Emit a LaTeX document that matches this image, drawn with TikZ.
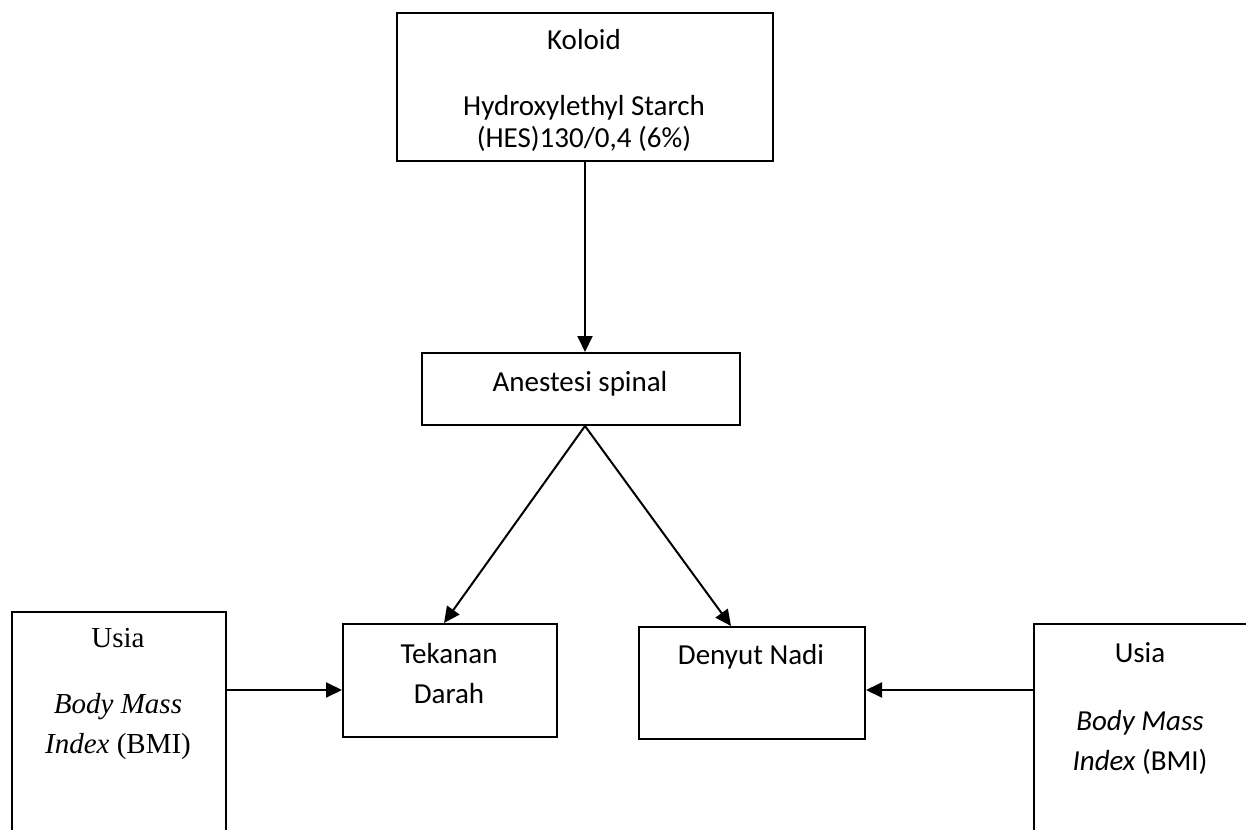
\documentclass[tikz,border=0pt]{standalone}
\usepackage{fontspec}
\setmainfont{Carlito}
\newfontfamily\tnr{Liberation Serif}
\usetikzlibrary{arrows.meta}
\begin{document}
\begin{tikzpicture}[x=0.5pt,y=-0.5pt,
  box/.style={draw,line width=1pt,inner sep=0pt,anchor=north west},
  txt/.style={anchor=base,inner sep=0pt,font=\fontsize{14.5pt}{17pt}\selectfont},
  arr/.style={line width=1pt,-{Triangle[length=8pt,width=7.5pt]}}]
\useasboundingbox (0,0) rectangle (1246,829);
\clip (0,0) rectangle (1246,829);
% boxes
\node[box,minimum width=188pt,minimum height=74pt] (koloid) at (396,12) {};
\node[box,minimum width=159pt,minimum height=36pt] (anestesi) at (421,352) {};
\node[box,minimum width=107pt,minimum height=56.5pt] (tekanan) at (342,623) {};
\node[box,minimum width=113pt,minimum height=56pt] (denyut) at (638,626) {};
\node[box,minimum width=107pt,minimum height=150pt] (leftbox) at (11,611) {};
\node[box,minimum width=115pt,minimum height=150pt] (rightbox) at (1033,623) {};
% texts
\node[txt] (t1) at (584,50) {Koloid};
\node[txt] (t2) at (584,115) {Hydroxylethyl Starch};
\node[txt] (t3) at (584,148) {(HES)130/0,4 (6\%)};
\node[txt] (t4) at (580,391) {Anestesi spinal};
\node[txt] (t5) at (449,663) {Tekanan};
\node[txt] (t6) at (449,703) {Darah};
\node[txt] (t7) at (751,664) {Denyut Nadi};
\node[txt] (t8) at (118,647) {\tnr Usia};
\node[txt] (t9) at (118,713) {\tnr\itshape Body Mass};
\node[txt] (t10) at (118,753) {\tnr{\itshape Index} (BMI)};
\node[txt] (t11) at (1140,662) {Usia};
\node[txt] (t12) at (1140,730) {\itshape Body Mass};
\node[txt] (t13) at (1140,770) {{\itshape Index} (BMI)};
% connectors
\coordinate (hy) at (0,690);
\draw[arr] (koloid.south) -- (koloid.south |- anestesi.north);
\draw[arr] (koloid.south |- anestesi.south) -- ([xshift=-3pt]tekanan.north);
\draw[arr] (koloid.south |- anestesi.south) -- ([xshift=-10.5pt]denyut.north);
\draw[arr] (leftbox.east |- hy) -- (tekanan.west |- hy);
\draw[arr] (rightbox.west |- hy) -- (denyut.east |- hy);
\end{tikzpicture}
\end{document}
